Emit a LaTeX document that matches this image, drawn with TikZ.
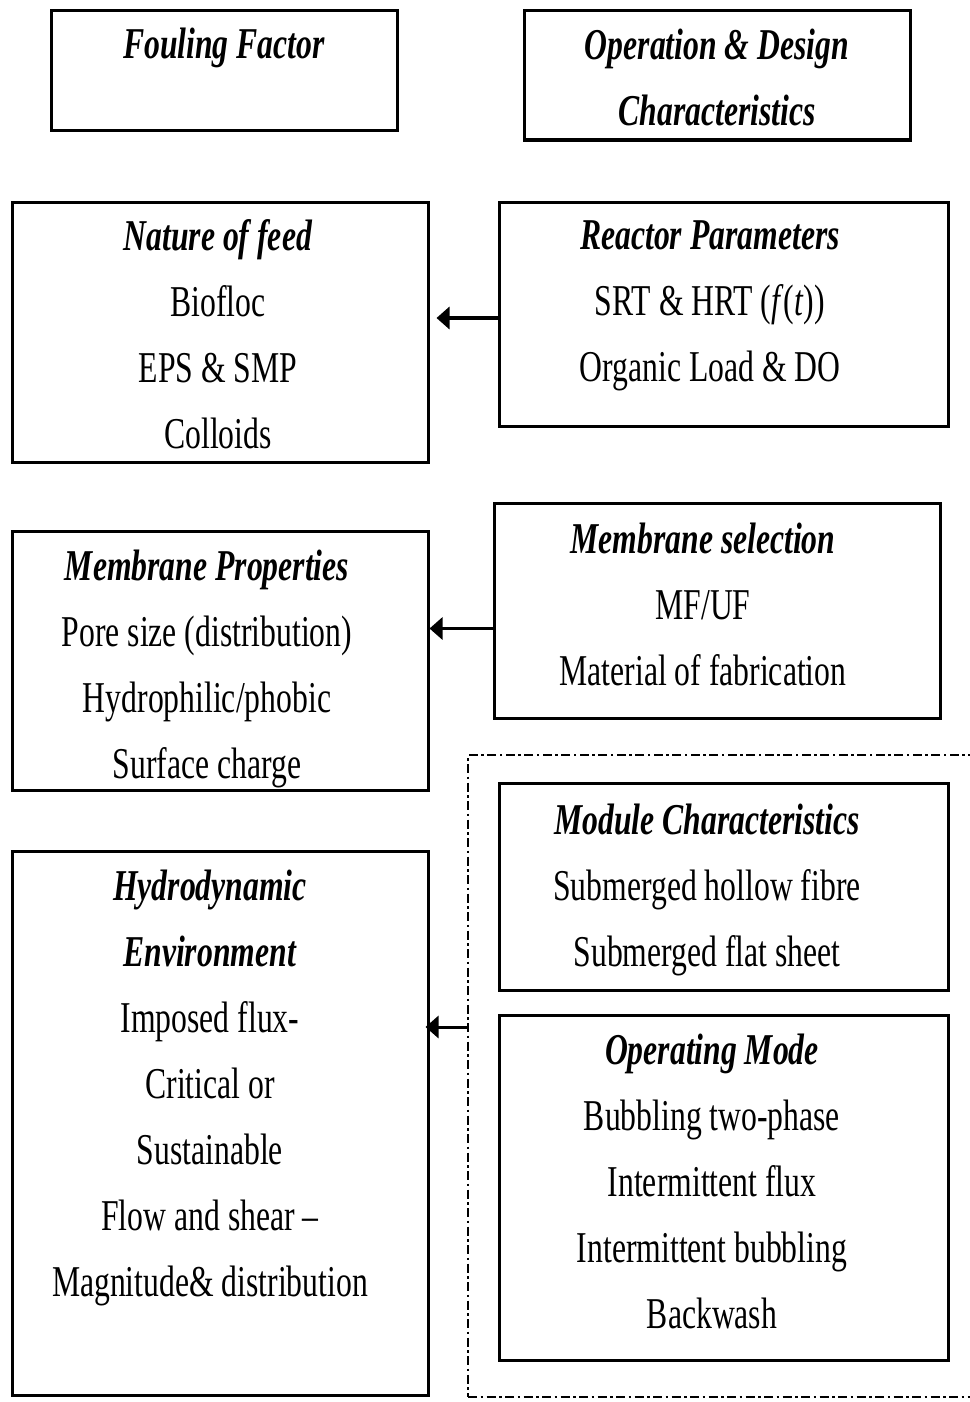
\documentclass[tikz,border=0pt]{standalone}
\usepackage{fontspec}
\setmainfont{Liberation Serif}[FakeStretch=0.72]
\usetikzlibrary{fit,arrows.meta}
\tikzset{
  box/.style={draw=black, line width=3pt, inner sep=0pt, fill=none},
  dbox/.style={draw=black, line width=2.4pt, inner sep=0pt, dash pattern=on 9pt off 3.5pt on 2.5pt off 3.5pt},
  txt/.style={align=center, inner sep=0pt, font=\fontsize{44}{66}\selectfont},
  arr/.style={line width=3pt, -{Triangle[width=22pt,length=13pt]}},
}
\newcommand{\hd}[1]{\textbf{\textit{#1}}}
\begin{document}
\begin{tikzpicture}[x=1pt,y=-1pt]
\useasboundingbox[fill=white] (0,0) rectangle (969,1402);
% boxes
\node[box, fit={(51,11) (397,131)}] (fbox) {};
\node[box, fit={(524,11) (910,140)}] (obox) {};
\node[box, fit={(12,202) (428,462)}] (nbox) {};
\node[box, fit={(499,202) (948,426)}] (rbox) {};
\node[box, fit={(12,531) (428,790)}] (mpbox) {};
\node[box, fit={(494,503) (940,718)}] (msbox) {};
\node[dbox, fit={(468,755) (975,1397)}] (dashbox) {};
\node[box, fit={(499,783) (948,990)}] (mcbox) {};
\node[box, fit={(499,1015) (948,1360)}] (ombox) {};
\node[box, fit={(12,851) (428,1395)}] (hbox) {};
% texts
\node[txt] (ft) at (224,48) {\hd{Fouling Factor}};
\node[txt] (ot) at (717,77) {\hd{Operation \& Design}\\\hd{Characteristics}};
\node[txt] (nt) at (218,334) {\hd{Nature of feed}\\Biofloc\\EPS \& SMP\\Colloids};
\node[txt] (rt) at (710,306) {\hd{Reactor Parameters}\\SRT \& HRT (\textit{f}(\textit{t}))\\Organic Load \& DO};
\node[txt] (mpt) at (207,669) {\hd{Membrane Properties}\\Pore size (distribution)\\Hydrophilic/phobic\\Surface charge};
\node[txt] (mst) at (703,604) {\hd{Membrane selection}\\MF/UF\\Material of fabrication};
\node[txt] (mct) at (707,890) {\hd{Module Characteristics}\\Submerged hollow fibre\\Submerged flat sheet};
\node[txt] (omt) at (712,1181) {\hd{Operating Mode}\\Bubbling two-phase\\Intermittent flux\\Intermittent bubbling\\Backwash};
\node[txt] (ht) at (210,1088) {\hd{Hydrodynamic}\\\hd{Environment}\\Imposed flux-\\Critical or\\Sustainable\\Flow and shear --\\Magnitude\& distribution};
% arrows
\draw[arr, line width=4.5pt] ([yshift=-4pt]rbox.west) -- ([yshift=-4pt,xshift=7pt]nbox.east |- rbox.west);
\draw[arr] ([yshift=-18pt]msbox.west) -- ([yshift=-18pt]mpbox.east |- msbox.west);
\draw[arr] ([yshift=49pt]dashbox.west) -- ([yshift=49pt,xshift=-4pt]hbox.east |- dashbox.west);
\end{tikzpicture}
\end{document}
